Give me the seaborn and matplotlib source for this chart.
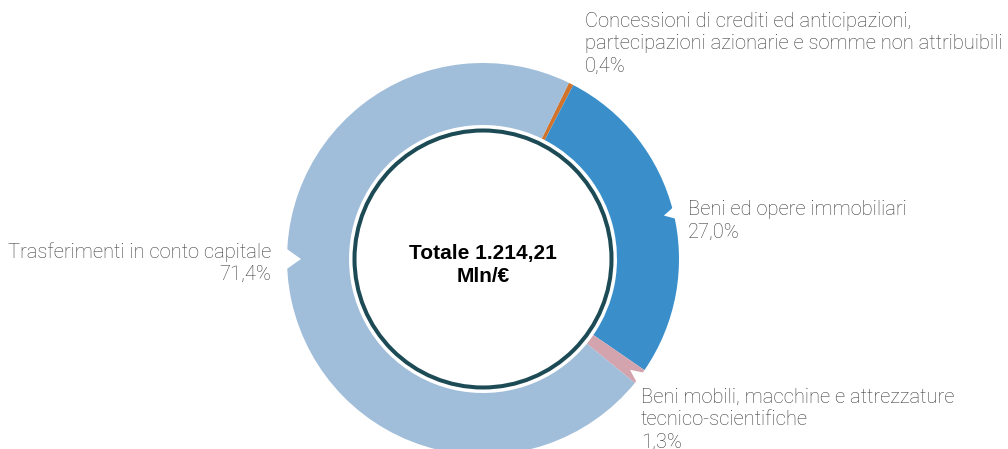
import numpy as np
import matplotlib
matplotlib.use("Agg")
import matplotlib.pyplot as plt
from matplotlib.patches import Circle, Polygon
import seaborn as sns

# Spending categories, clockwise from the small orange slice
categories = [
    "Concessioni di crediti ed anticipazioni,\npartecipazioni azionarie e somme non attribuibili",
    "Beni ed opere immobiliari",
    "Beni mobili, macchine e attrezzature\ntecnico-scientifiche",
    "Trasferimenti in conto capitale",
]
shares = [0.4, 27.0, 1.3, 71.4]
share_labels = ["0,4%", "27,0%", "1,3%", "71,4%"]
total_label = "Totale 1.214,21\nMln/€"

sns.set_theme(style="white")
plt.rcParams["font.family"] = ["Roboto", "DejaVu Sans"]

colors = sns.color_palette(["#d2732b", "#3a8fcb", "#d3a4ad", "#a0bdd9"])
text_color = "#3b3b3b"
ring_color = "#1c4a55"

W, H = 1008, 449
fig = plt.figure(figsize=(W / 100, H / 100), dpi=100)
ax = fig.add_axes([0, 0, 1, 1])

cx, cy = 483, H - 259
r_out, r_in = 196, 134

wedges, _ = ax.pie(
    shares, colors=colors, startangle=64, counterclock=False,
    radius=r_out, center=(cx, cy),
    wedgeprops=dict(width=r_out - r_in, linewidth=0),
)

# small white notches on the outer rim, pointing toward each label
notch_specs = [(270, 14, 12), (76.5, 10, 7), (127, 12, 7)]  # angle (cw from top), depth, half-height
for ang, depth, half in notch_specs:
    a = np.deg2rad(90 - ang)
    ux, uy = np.cos(a), np.sin(a)
    px, py = -uy, ux
    base_r = r_out + 3
    tip = (cx + (r_out - depth) * ux, cy + (r_out - depth) * uy)
    b1 = (cx + base_r * ux + half * px, cy + base_r * uy + half * py)
    b2 = (cx + base_r * ux - half * px, cy + base_r * uy - half * py)
    ax.add_patch(Polygon([b1, tip, b2], closed=True, facecolor="white",
                         edgecolor="none", zorder=3))

# inner ring with total
ax.add_patch(Circle((cx, cy), 128.5, facecolor="white", edgecolor=ring_color,
                    linewidth=2.9, zorder=4))
ax.text(cx, H - 265, total_label, ha="center", va="center", fontsize=15,
        fontweight="bold", family=["Liberation Sans", "DejaVu Sans"],
        color="black", linespacing=1.25, zorder=5)

fs = 14.5
lab_kw = dict(fontsize=fs, fontweight="light", color=text_color,
              linespacing=1.23, va="top")
ax.text(585, H - 12, categories[0] + "\n" + share_labels[0], ha="left", **lab_kw)
ax.text(688, H - 200, categories[1] + "\n" + share_labels[1], ha="left", **lab_kw)
ax.text(641, H - 388, categories[2] + "\n" + share_labels[2], ha="left", **lab_kw)
ax.text(271, H - 242, categories[3] + "\n" + share_labels[3], ha="right",
        multialignment="right", **lab_kw)

ax.set_xlim(0, W)
ax.set_ylim(0, H)
ax.set_aspect("equal")
ax.axis("off")
fig.savefig("out.png", dpi=100, facecolor="white")
